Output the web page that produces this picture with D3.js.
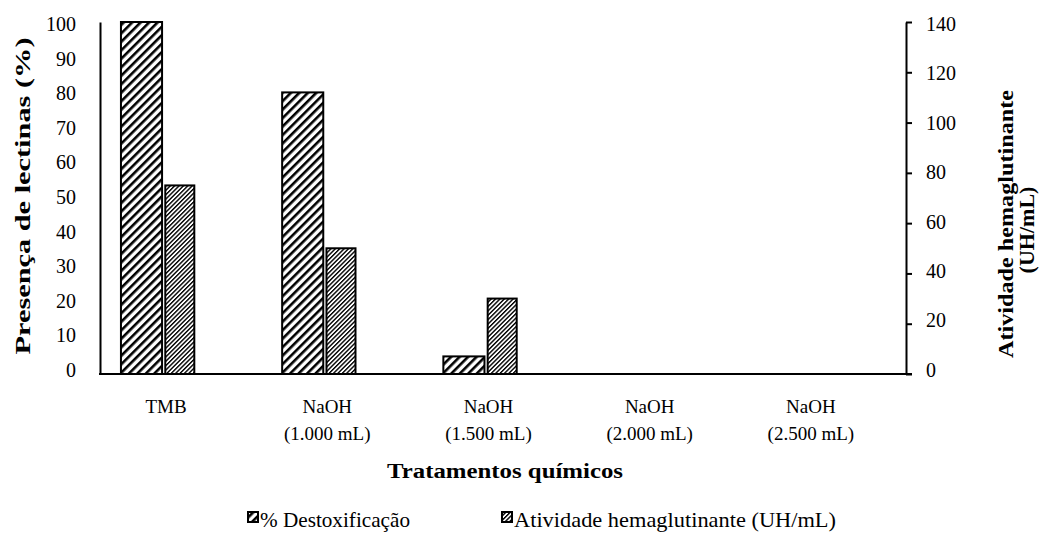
<!DOCTYPE html>
<html><head><meta charset="utf-8">
<script src="https://cdn.jsdelivr.net/npm/d3@7"></script>
<style>body{margin:0;background:#fff}svg{display:block}</style>
</head><body><div id="chart"></div>
<script>
const categories = [["TMB"], ["NaOH", "(1.000 mL)"], ["NaOH", "(1.500 mL)"], ["NaOH", "(2.000 mL)"], ["NaOH", "(2.500 mL)"]];
const destox = [100, 80, 5, 0, 0];
const hemag = [75, 50, 30, 0, 0];
const leftTicks = [0, 10, 20, 30, 40, 50, 60, 70, 80, 90, 100];
const rightTicks = [0, 20, 40, 60, 80, 100, 120, 140];
const seriesNames = ["% Destoxificação", "Atividade hemaglutinante (UH/mL)"];

const FONT = "'Liberation Serif', 'Times New Roman', serif";
const W = 1045, H = 537;
const L = 100, R = 906, T = 22, B = 374;
const svg = d3.select("#chart").append("svg").attr("width", W).attr("height", H)
  .attr("font-family", FONT);
const defs = svg.append("defs");
function stripes(id, size, sw) {
  const p = defs.append("pattern").attr("id", id).attr("patternUnits", "userSpaceOnUse")
    .attr("width", size).attr("height", size).attr("patternTransform", "rotate(45)");
  p.append("rect").attr("width", size).attr("height", size).attr("fill", "#fff");
  p.append("rect").attr("x", 0).attr("width", sw).attr("height", size).attr("fill", "#000");
}
stripes("pDestox", 6, 2.6);
stripes("pHemag", 3.1, 1.4);

const x = d3.scaleBand().domain(d3.range(categories.length)).range([L, R]).padding(0);
const yL = d3.scaleLinear().domain([0, 100]).range([B, T]);
const yR = d3.scaleLinear().domain([0, 140]).range([B, T]);
const bw = x.bandwidth();
const w1 = bw * 0.255, w2 = bw * 0.18, off1 = bw * 0.13, gap = bw * 0.02;

const g = svg.append("g");
g.selectAll(".d").data(destox).join("rect")
  .attr("x", (d, i) => x(i) + off1).attr("width", w1)
  .attr("y", d => yL(d)).attr("height", d => yL(0) - yL(d))
  .attr("fill", "url(#pDestox)").attr("stroke", "#000").attr("stroke-width", 2)
  .style("display", d => d > 0 ? null : "none");
g.selectAll(".h").data(hemag).join("rect")
  .attr("x", (d, i) => x(i) + off1 + w1 + gap).attr("width", w2)
  .attr("y", d => yR(d)).attr("height", d => yR(0) - yR(d))
  .attr("fill", "url(#pHemag)").attr("stroke", "#000").attr("stroke-width", 2)
  .style("display", d => d > 0 ? null : "none");

const axL = svg.append("g").attr("transform", `translate(${L},0)`)
  .call(d3.axisLeft(yL).tickValues(leftTicks).tickSize(0).tickPadding(24));
axL.attr("font-family", FONT).attr("font-size", 20);
axL.select(".domain").attr("stroke", "#000").attr("stroke-width", 2);
axL.selectAll(".tick text").attr("y", d => -4 + 6 * d / 100);

const axR = svg.append("g").attr("transform", `translate(${R},0)`)
  .call(d3.axisRight(yR).tickValues(rightTicks).tickSize(6).tickSizeOuter(0).tickPadding(14));
axR.attr("font-family", FONT).attr("font-size", 20);
axR.select(".domain").attr("stroke", "#000").attr("stroke-width", 2);
axR.selectAll("line").attr("stroke", "#000").attr("stroke-width", 2);
axR.selectAll(".tick text").attr("y", d => -4 + 6 * d / 140);

svg.append("line").attr("x1", L - 1).attr("x2", R + 6).attr("y1", B).attr("y2", B)
  .attr("stroke", "#000").attr("stroke-width", 2);

const cl = svg.append("g");
categories.forEach((c, i) => {
  const cx = x(i) + bw * 0.41;
  c.forEach((t, j) => {
    cl.append("text").attr("x", cx).attr("y", 413 + j * 27).attr("text-anchor", "middle")
      .attr("font-size", 19).text(t);
  });
});

svg.append("text").attr("x", 505).attr("y", 478).attr("text-anchor", "middle")
  .attr("font-size", 20).attr("font-weight", "bold")
  .attr("textLength", 236).attr("lengthAdjust", "spacingAndGlyphs").text("Tratamentos químicos");
svg.append("text").attr("transform", "translate(30,196) rotate(-90)").attr("text-anchor", "middle")
  .attr("font-size", 21).attr("font-weight", "bold")
  .attr("textLength", 317).attr("lengthAdjust", "spacingAndGlyphs").text("Presença de lectinas (%)");
svg.append("text").attr("transform", "translate(1013,224) rotate(-90)").attr("text-anchor", "middle")
  .attr("font-size", 22).attr("font-weight", "bold")
  .attr("textLength", 268).attr("lengthAdjust", "spacingAndGlyphs").text("Atividade hemaglutinante");
svg.append("text").attr("transform", "translate(1034,230) rotate(-90)").attr("text-anchor", "middle")
  .attr("font-size", 22).attr("font-weight", "bold").text("(UH/mL)");

const legX = [248, 502], legLen = [150, 322], legFill = ["url(#pDestox)", "url(#pHemag)"];
seriesNames.forEach((n, i) => {
  svg.append("rect").attr("x", legX[i]).attr("y", 512).attr("width", 10).attr("height", 10)
    .attr("fill", legFill[i]).attr("stroke", "#000").attr("stroke-width", 2);
  svg.append("text").attr("x", legX[i] + 12).attr("y", 527).attr("font-size", 21)
    .attr("textLength", legLen[i]).attr("lengthAdjust", "spacingAndGlyphs").text(n);
});
</script></body></html>
